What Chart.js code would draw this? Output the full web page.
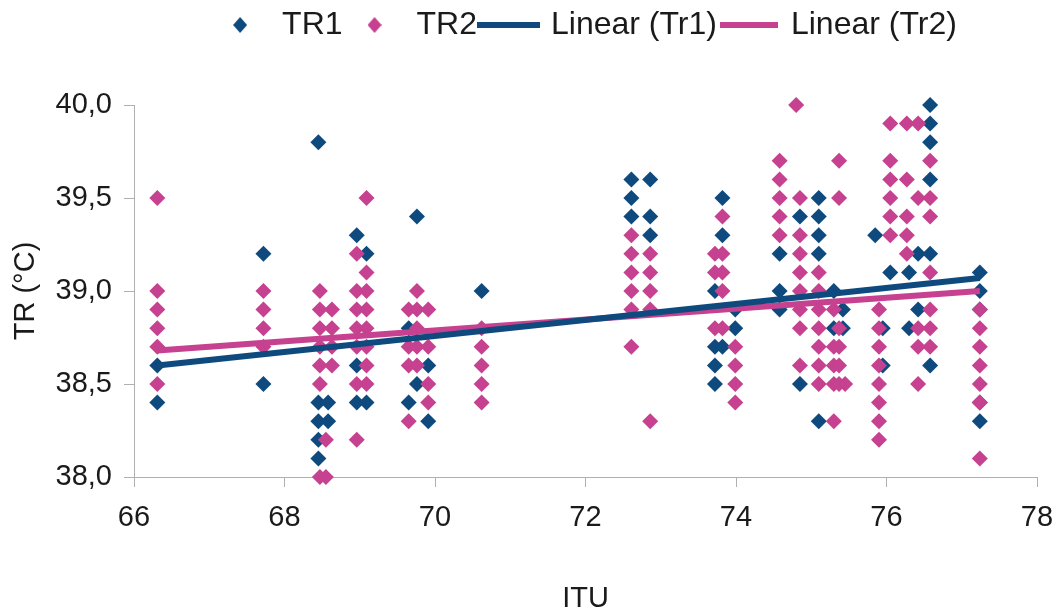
<!DOCTYPE html>
<html>
<head>
<meta charset="utf-8">
<script src="https://cdn.jsdelivr.net/npm/chart.js@4"></script>
<style>
  html, body { margin: 0; padding: 0; background: #fff; }
  #wrap { width: 1058px; height: 611px; }
</style>
</head>
<body>
<div id="wrap"><canvas id="c" width="1058" height="611"></canvas></div>
<script>
// ---- data ----
const seriesNames = ['TR1', 'TR2', 'Linear (Tr1)', 'Linear (Tr2)'];

// TR1: ITU columns and the TR values at each column
const tr1ITU = [66.31, 67.72, 68.45, 68.58, 68.96, 69.09, 69.65, 69.76, 69.91, 70.62,
                72.61, 72.86, 73.72, 73.82, 73.99, 74.58, 74.85, 75.10, 75.30, 75.42,
                75.85, 75.95, 76.05, 76.30, 76.42, 76.58, 77.24];
const tr1TR = [
  [38.6, 38.4], [39.2, 38.5], [39.8, 38.4, 38.3, 38.2, 38.1], [38.4, 38.3],
  [39.3, 38.6, 38.4], [39.2, 38.4], [38.8, 38.4], [39.4, 38.5], [38.6, 38.3], [39.0],
  [39.6, 39.5, 39.4], [39.6, 39.4, 39.3], [39.0, 38.7, 38.6, 38.5], [39.5, 39.3, 38.7],
  [38.9, 38.8], [39.2, 39.0, 38.9], [39.4, 38.5], [39.5, 39.4, 39.3, 39.2, 38.3],
  [39.0, 38.8], [38.9, 38.8], [39.3], [38.8, 38.6], [39.1], [39.1, 38.8], [39.2, 38.9],
  [40.0, 39.9, 39.8, 39.6, 39.2, 38.6], [39.1, 39.0, 38.9, 38.4, 38.3]
];

// TR2
const tr2ITU = [66.31, 67.72, 68.47, 68.55, 68.63, 68.96, 69.09, 69.65, 69.76, 69.91,
                70.62, 72.61, 72.86, 73.72, 73.82, 73.99, 74.58, 74.80, 74.85, 75.10,
                75.30, 75.37, 75.45, 75.90, 76.05, 76.27, 76.42, 76.58, 77.24];
const tr2TR = [
  [39.5, 39.0, 38.9, 38.8, 38.7, 38.5], [39.0, 38.9, 38.8, 38.7],
  [39.0, 38.9, 38.8, 38.7, 38.6, 38.5, 38.0], [38.2, 38.0], [38.9, 38.8, 38.7, 38.6],
  [39.2, 39.0, 38.9, 38.8, 38.7, 38.5, 38.2], [39.5, 39.1, 39.0, 38.9, 38.8, 38.7, 38.6, 38.5],
  [38.9, 38.7, 38.6, 38.3], [39.0, 38.9, 38.8, 38.7, 38.6], [38.9, 38.7, 38.5, 38.4],
  [38.8, 38.7, 38.6, 38.5, 38.4], [39.3, 39.2, 39.1, 39.0, 38.9, 38.7],
  [39.2, 39.1, 39.0, 38.9, 38.3], [39.2, 39.1, 38.8], [39.4, 39.2, 39.1, 39.0, 38.8],
  [38.7, 38.6, 38.5, 38.4], [39.7, 39.6, 39.5, 39.4, 39.3], [40.0],
  [39.5, 39.3, 39.2, 39.1, 39.0, 38.9, 38.8, 38.6], [39.1, 39.0, 38.9, 38.8, 38.7, 38.6, 38.5],
  [38.9, 38.7, 38.6, 38.5, 38.3], [39.7, 39.5, 38.8, 38.7, 38.6, 38.5], [38.5],
  [38.9, 38.8, 38.7, 38.6, 38.5, 38.4, 38.3, 38.2], [39.9, 39.7, 39.6, 39.5, 39.4, 39.3],
  [39.9, 39.6, 39.4, 39.3, 39.2], [39.9, 39.5, 38.8, 38.7, 38.5],
  [39.7, 39.5, 39.4, 39.1, 38.9, 38.8, 38.7], [38.9, 38.8, 38.7, 38.6, 38.5, 38.4, 38.1]
];

// Trend lines (end points)
const trendITU = [66.31, 77.24];
const trend1TR = [38.60, 39.07];
const trend2TR = [38.68, 39.00];

// Axis ticks
const xTicks = [66, 68, 70, 72, 74, 76, 78];
const yTicks = [38.0, 38.5, 39.0, 39.5, 40.0];

// ---- styles ----
const BLUE = '#0f4a7e';
const PINK = '#c6418f';
const FONT = '"Liberation Sans", Arial, sans-serif';
const TXT = '#1a1a1a';

function toPoints(xs, ys) {
  const out = [];
  xs.forEach((x, i) => ys[i].forEach(y => out.push({ x: x, y: y })));
  return out;
}
function linePoints(xs, ys) { return xs.map((x, i) => ({ x: x, y: ys[i] })); }

function diamondIcon(color, w, h) {
  const c = document.createElement('canvas');
  c.width = w; c.height = h;
  const g = c.getContext('2d');
  g.fillStyle = color;
  g.beginPath();
  g.moveTo(w / 2, 0); g.lineTo(w, h / 2); g.lineTo(w / 2, h); g.lineTo(0, h / 2);
  g.closePath(); g.fill();
  return c;
}
function lineIcon(color, w, h) {
  const c = document.createElement('canvas');
  c.width = w; c.height = h;
  const g = c.getContext('2d');
  g.fillStyle = color;
  g.fillRect(0, 0, w, h);
  return c;
}
const legendIcons = [diamondIcon(BLUE, 14, 16), diamondIcon(PINK, 14, 16),
                     lineIcon(BLUE, 63, 6), lineIcon(PINK, 58, 6)];

const layoutPlugin = {
  id: 'layoutFix',
  afterInit(chart) {
    const lg = chart.legend;
    const orig = lg.fit;
    lg.fit = function () { orig.call(this); this.height = 102; };
  }
};

new Chart(document.getElementById('c'), {
  type: 'scatter',
  data: {
    datasets: [
      { label: seriesNames[0], data: toPoints(tr1ITU, tr1TR), pointStyle: 'rectRot', pointRadius: 8,
        backgroundColor: BLUE, borderColor: BLUE, borderWidth: 0, order: 3, clip: false },
      { label: seriesNames[1], data: toPoints(tr2ITU, tr2TR), pointStyle: 'rectRot', pointRadius: 8,
        backgroundColor: PINK, borderColor: PINK, borderWidth: 0, order: 2, clip: false },
      { type: 'line', label: seriesNames[2], data: linePoints(trendITU, trend1TR), showLine: true,
        borderColor: BLUE, backgroundColor: BLUE, borderWidth: 6, pointRadius: 0, order: 0, clip: false },
      { type: 'line', label: seriesNames[3], data: linePoints(trendITU, trend2TR), showLine: true,
        borderColor: PINK, backgroundColor: PINK, borderWidth: 6, pointRadius: 0, order: 1, clip: false }
    ]
  },
  options: {
    responsive: false,
    animation: false,
    devicePixelRatio: 1,
    layout: { padding: { top: 3, left: 0, right: 21, bottom: 0 } },
    plugins: {
      tooltip: { enabled: false },
      legend: {
        position: 'top',
        fullSize: false,
        labels: {
          usePointStyle: true,
          pointStyleWidth: 52,
          boxHeight: 6,
          padding: 6,
          color: TXT,
          font: { family: FONT, size: 32 },
          sort: (a, b) => a.datasetIndex - b.datasetIndex,
          generateLabels(chart) {
            const items = Chart.defaults.plugins.legend.labels.generateLabels(chart);
            items.forEach(it => { it.pointStyle = legendIcons[it.datasetIndex]; it.rotation = 0; });
            return items;
          }
        }
      }
    },
    scales: {
      x: {
        type: 'linear',
        min: xTicks[0], max: xTicks[xTicks.length - 1],
        afterBuildTicks(scale) { scale.ticks = xTicks.map(v => ({ value: v })); },
        afterFit(scale) { scale.height = 134; scale.paddingLeft = 0; scale.paddingRight = 0; },
        grid: { drawOnChartArea: false, drawTicks: true, tickLength: 10, color: '#b0b0b0' },
        border: { display: true, color: '#b0b0b0', width: 1 },
        ticks: { color: TXT, font: { family: FONT, size: 29 }, padding: 14, callback: v => String(v) },
        title: { display: true, text: 'ITU', color: TXT, font: { family: FONT, size: 29, lineHeight: 0.8 },
                 padding: { top: 0, bottom: 0 } }
      },
      y: {
        type: 'linear',
        min: yTicks[0], max: yTicks[yTicks.length - 1],
        afterBuildTicks(scale) { scale.ticks = yTicks.map(v => ({ value: v })); },
        afterFit(scale) { scale.width = 134; },
        grid: { drawOnChartArea: false, drawTicks: true, tickLength: 10, color: '#b0b0b0' },
        border: { display: true, color: '#b0b0b0', width: 1 },
        ticks: { color: TXT, font: { family: FONT, size: 29 }, padding: 12,
                 callback: v => Number(v).toFixed(1).replace('.', ',') },
        title: { display: true, text: 'TR (°C)', color: TXT, font: { family: FONT, size: 29 },
                 padding: { top: 9, bottom: 0 } }
      }
    }
  },
  plugins: [layoutPlugin]
});
</script>
</body>
</html>
